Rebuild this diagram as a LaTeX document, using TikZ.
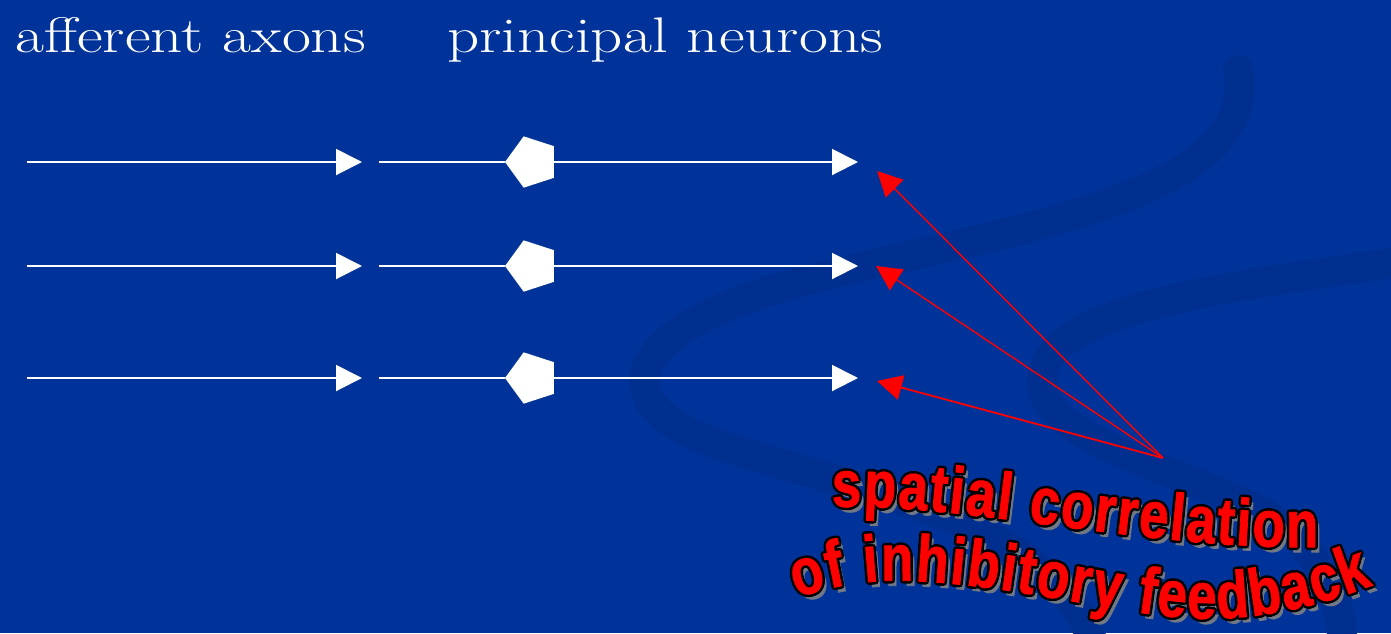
\documentclass[tikz,border=0pt]{standalone}
\usepackage{fontspec}
\usepackage{graphicx}
\usetikzlibrary{arrows.meta,shapes.geometric,decorations.text}
\newfontfamily\wafont{Liberation Sans}[UprightFont=* Bold,FakeStretch=0.8,FakeBold=1.2]
\newcommand\wasize{\wafont\fontsize{66}{70}\selectfont}
\definecolor{bgblue}{RGB}{0,51,153}
\definecolor{swirlblue}{RGB}{0,47,144}
\definecolor{shadowgray}{RGB}{112,120,134}
\newcommand\wordart[2]{%
  \path[decorate,shift={(4pt,-5pt)},decoration={text along path,text align={fit to path},text={|\wasize\color{shadowgray}|#2}}] #1;
  \foreach \dx/\dy in {2.5/0,-2.5/0,0/2.5,0/-2.5,1.8/1.8,-1.8/1.8,1.8/-1.8,-1.8/-1.8}{%
    \path[decorate,shift={(\dx pt,\dy pt)},decoration={text along path,text align={fit to path},text={|\wasize\color{black}|#2}}] #1;}
  \path[decorate,decoration={text along path,text align={fit to path},text={|\wasize\color{red}|#2}}] #1;
}
\begin{document}
\begin{tikzpicture}[x=1pt,y=-1pt,
  wline/.style={draw=white,line width=2pt},
  warrow/.style={wline,-{Triangle[length=26pt,width=26pt]}},
  rarrow/.style={draw=red,line width=1.4pt,-{Triangle[length=25pt,width=25pt]}},
  pent/.style={regular polygon,regular polygon sides=5,shape border rotate=90,minimum size=54pt,inner sep=0pt,fill=white,draw=none},
  title/.style={text=white,inner sep=0pt,anchor=base west,font=\fontsize{50}{54}\selectfont},
  swirl/.style={draw=swirlblue,line width=30pt,line cap=round}]
\useasboundingbox (0,0) rectangle (1391,633);
\fill[bgblue] (0,0) rectangle (1391,633);
% background swirl
\draw[swirl] (1238,70) .. controls (1262,200) and (1000,230) .. (800,282)
   .. controls (620,330) and (600,405) .. (720,445)
   .. controls (860,492) and (1050,520) .. (1092,640);
\draw[swirl] (1400,262) .. controls (1200,290) and (1042,312) .. (1042,382)
   .. controls (1042,452) and (1250,482) .. (1300,540)
   .. controls (1330,580) and (1342,610) .. (1342,640);
% titles
\node[title] (ta) at (15,52) {\scalebox{1.26}[1]{afferent axons}};
\node[title] (tp) at (447,52) {\scalebox{1.26}[1]{principal neurons}};
% rows
\foreach \i/\y in {1/162,2/266,3/378}{
  \coordinate (s\i) at (27,\y);
  \coordinate (m\i) at (362,\y);
  \coordinate (n\i) at (379,\y);
  \node[pent] (p\i) at (532,\y) {};
  \coordinate (t\i) at (858,\y);
  \draw[warrow] (s\i) -- (m\i);
  \draw[wline] (n\i) -- (p\i);
  \draw[warrow] (p\i) -- (t\i);
}
% red feedback arrows
\coordinate (src) at (1163,458);
\coordinate (r1) at (877,171);
\coordinate (r2) at (876,266);
\coordinate (r3) at (877,381);
\draw[rarrow] (src) -- (r1);
\draw[rarrow] (src) -- (r2);
\draw[rarrow,line width=1.8pt] (src) -- (r3);
% word art
\wordart{(832,507) .. controls (960,502) and (1150,550) .. (1318,547)}{spatial correlation}
\wordart{(797,598) .. controls (840,583) and (880,578) .. (930,582) .. controls (1050,590) and (1150,624) .. (1230,618) .. controls (1290,614) and (1340,598) .. (1373,585)}{of inhibitory feedback}
\end{tikzpicture}
\end{document}
